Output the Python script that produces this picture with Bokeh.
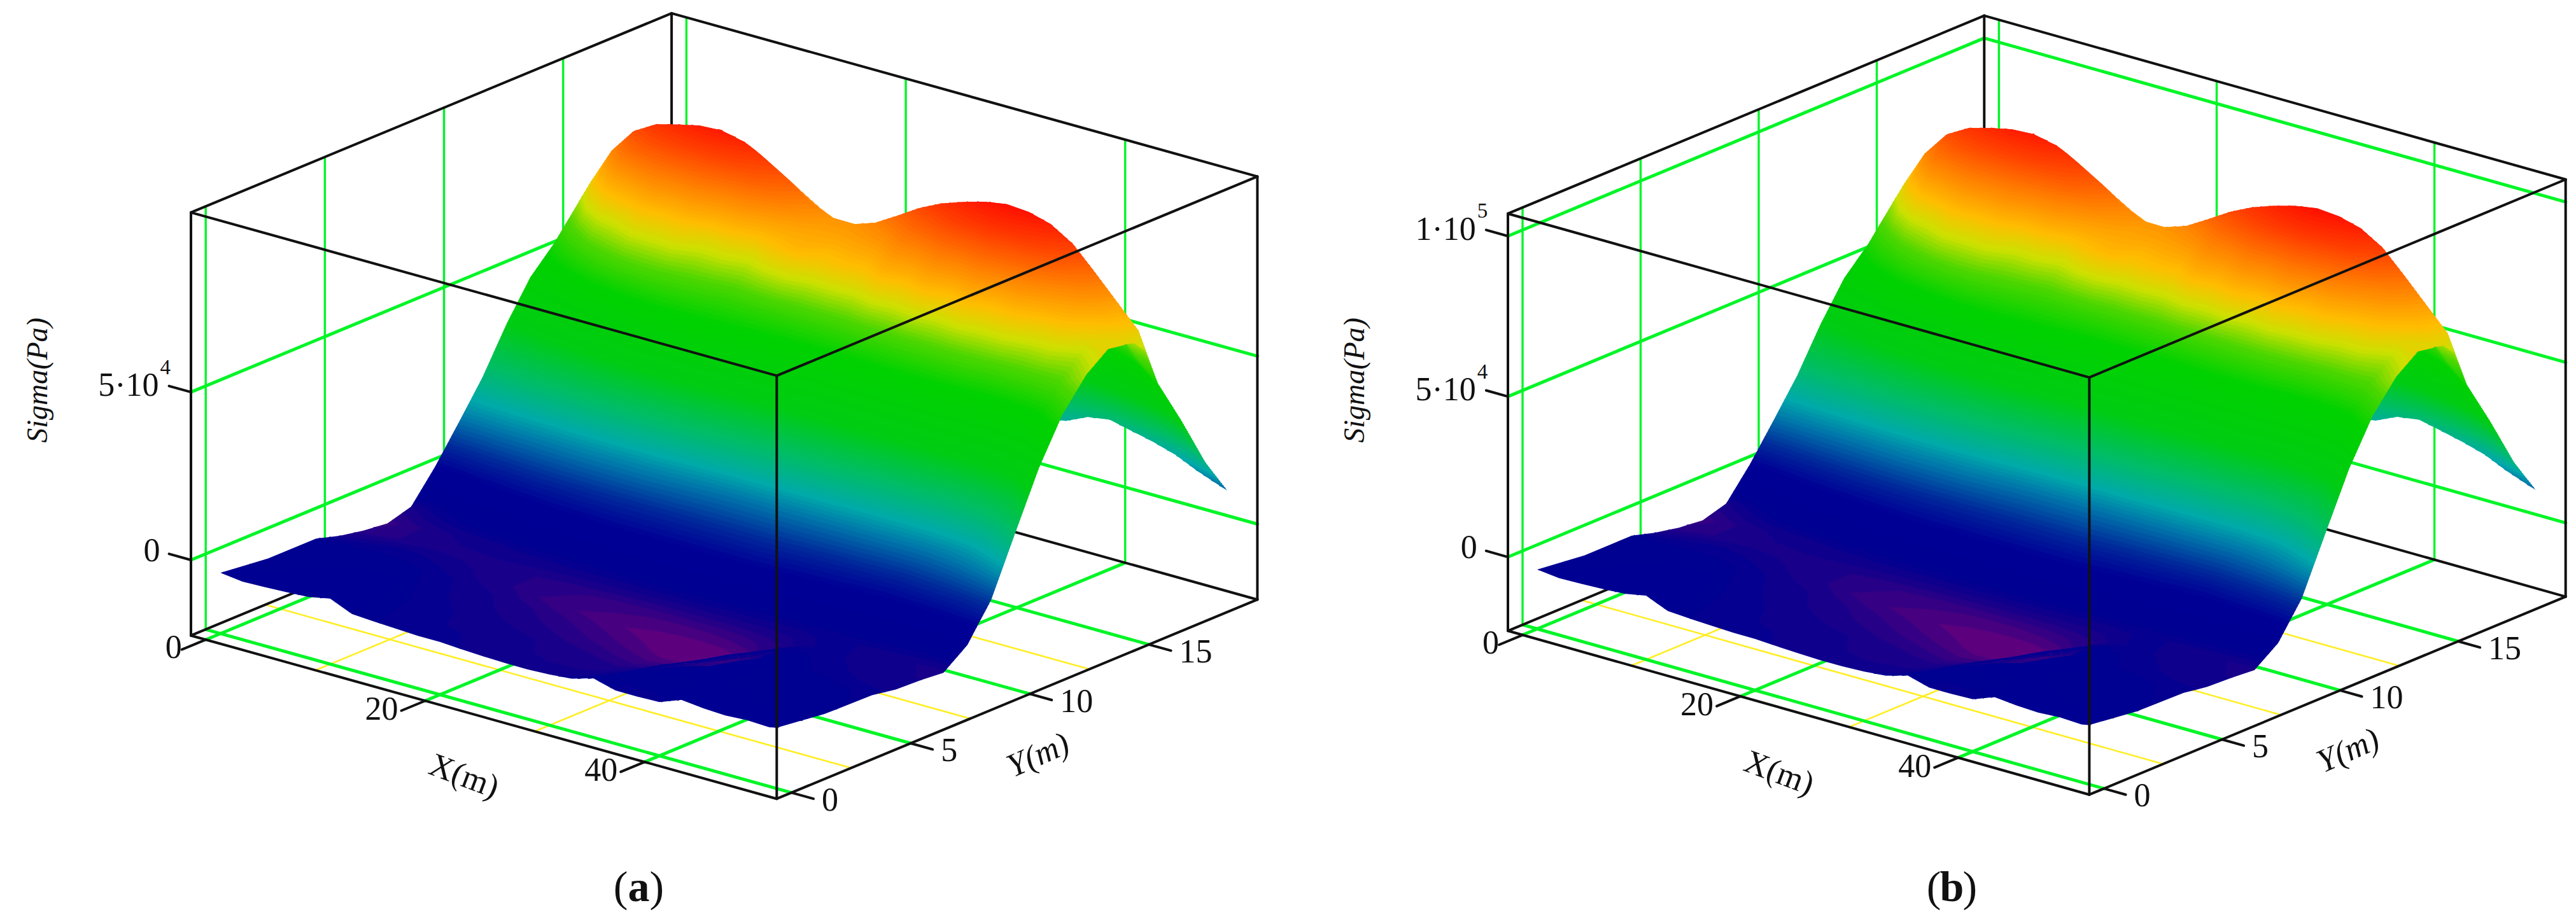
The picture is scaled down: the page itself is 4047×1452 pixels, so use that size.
import numpy as np
from bokeh.plotting import figure
from bokeh.layouts import row
from bokeh.models import Range1d
from bokeh.core.properties import value
from bokeh.embed import file_html
from bokeh.resources import INLINE

# ---- data (metres, kPa) ----
x_m = [0, 2, 4, 6, 8, 10, 12, 14, 16, 18, 20, 22, 24, 26, 28, 30, 32, 34, 36, 38, 40, 42, 44, 46, 48, 50, 50.7]
y_m = [0, 2, 4, 5, 6, 7, 8, 9, 10, 11, 12, 13, 14, 15, 15.5, 16, 17, 18, 18.9]
a_y00 = [-4.4, -5.2, -5.0, -4.7, -4.3, -3.0, -5.8, -6.2, -6.5, -6.8, -6.8, -7.2, -7.5, -7.7, -7.7, -7.4, -6.8, -4.9, -6.7, -6.7, -6.5, -4.0, -4.7, -5.0, -4.6, -4.9, -4.4]
a_y02 = [-6.0, -5.6, -5.3, -5.0, -4.8, -4.5, -6.0, -6.6, -7, -7.4, -7.6, -7.8, -8, -8.3, -8.5, -8.8, -9, -8, -4.8, -5, -5.2, -5.4, -5.5, -5.6, -5.8, -6, -6.2]
a_y04 = [-6, -6, -6, -6, -6.1, -6.4, -7, -7.6, -8, -8.5, -9, -9.5, -10, -10.5, -11, -11.5, -12, -12, -11, -5.5, -5, -5.5, -6, -6, -6.2, -6.4, -6.5]
a_y05 = [-8.1, -7.6, -7.2, -7, -7.2, -7.6, -8, -8.6, -9, -9.8, -10.4, -10.8, -11.2, -11.6, -12, -12.3, -12.5, -12.5, -12, -10, -5.2, -6, -6.6, -7, -7.4, -7.6, -7.7]
a_y06 = [-9.5, -9.2, -8.8, -8.5, -8.4, -8.4, -8.4, -8.6, -9, -9.4, -9.7, -10, -10.3, -10.5, -10.6, -10.6, -10.5, -10.2, -9.6, -9, -7.5, -6.8, -7.2, -7.8, -8, -8, -8]
a_y07 = [-10.3, -9.4, -8.6, -8, -7.6, -7.3, -7, -6.9, -6.7, -6.5, -6.4, -6.3, -6.2, -6.2, -6.2, -6.3, -6.5, -6.7, -7, -7, -7, -7, -7.3, -7.6, -8, -8.4, -8.6]
a_y08 = [-8.2, -6.8, -5.4, -4, -3.3, -2.7, -2, -1.7, -1.3, -1, -1, -1, -1, -1, -1, -1, -1.3, -1.7, -2, -2.3, -2.7, -3, -3.3, -3.5, -3.5, -3.4, -3.3]
a_y09 = [0.7, 1.5, 2.3, 3, 3.7, 4.2, 4.5, 4.8, 5, 5, 5, 5, 5, 5, 5, 5, 4.7, 4.3, 4, 3.7, 3.3, 3, 3.7, 4.3, 5, 6.5, 7.2]
a_y10 = [11, 11.3, 11.7, 12, 12.3, 12.7, 13, 13, 13, 13, 12.7, 12.3, 12, 12, 12, 12, 12, 12, 12, 12, 12, 12, 12.7, 14, 17, 22, 24]
a_y11 = [21.6, 22.6, 23.4, 24, 24.6, 25.2, 25.5, 25.8, 26, 26, 25.6, 25.3, 25, 25, 25, 25, 25, 24.6, 24, 24, 24, 24, 25.3, 27, 30, 37, 40.5]
a_y12 = [34.4, 36, 38, 40, 42, 44, 46, 46.8, 47, 47, 46.4, 45.6, 45, 45, 45, 45, 45, 45, 45, 45, 44.6, 44, 44, 45, 47, 52, 53.7]
a_y13 = [45.4, 48, 51, 55, 57, 58, 58, 57, 56, 55, 55, 55, 55, 55, 55, 55.5, 56, 56.5, 57, 57, 57, 56, 56, 56, 57, 61, 62.6]
a_y14 = [52.6, 58, 64, 66, 70, 69, 70, 66, 67, 65, 69, 71, 68, 69, 68, 72, 70, 73, 70, 73, 70, 71, 67, 67, 63, 66, 68]
a_y15 = [61.6, 72, 80, 84, 86, 87, 87, 86, 84, 80, 76, 74, 74, 75, 77, 81, 84, 87, 89, 90, 89, 87, 83, 78, 72, 67, 66]
a_y155 = [66, 77.6, 85.2, 89, 90.8, 92.3, 92.7, 91.2, 87.7, 83.7, 78.9, 75.8, 75.7, 77.9, 81.8, 85.9, 89.1, 91.4, 93.3, 94.4, 93.9, 92.1, 88.1, 81.5, 74.6, 67.7, 62]
a_y16 = [66, 74, 80, 84, 86, 87, 88, 87, 83, 79, 75, 72, 71, 73, 77, 80, 83, 86, 87, 88, 87, 84, 80, 72, 60, 53, 51]
a_y17 = [60, 64, 67, 70, 71, 72, 72, 71, 69, 65, 62, 60, 58, 59, 60, 64, 67, 69, 70, 70, 68, 64, 58, 52, 46, 39, 36.8]
a_y18 = [45, 47, 49, 50, 50, 50, 50, 49, 48, 45, 43, 41, 40, 40, 40, 42, 43, 44, 44, 43, 41, 39, 36, 33, 29, 23.5, 21.5]
a_y189 = [15, 15, 15, 16, 16, 16, 16, 16, 16, 16, 16, 16, 16, 16, 16, 16, 16.2, 17, 18, 21, 22, 20.5, 19, 17, 14, 11.5, 10.7]
sigma_a = [a_y00, a_y02, a_y04, a_y05, a_y06, a_y07, a_y08, a_y09, a_y10, a_y11, a_y12, a_y13,
           a_y14, a_y15, a_y155, a_y16, a_y17, a_y18, a_y189]

b_y00 = [-4.5, -5.3, -5.1, -4.8, -4.4, -3.1, -6.0, -6.4, -6.7, -7.0, -7.0, -7.4, -7.7, -7.9, -7.9, -7.6, -7.0, -5.0, -6.9, -6.9, -6.7, -4.1, -4.8, -5.1, -4.7, -5.0, -4.5]
b_y02 = [-6.2, -5.8, -5.4, -5.1, -4.9, -4.6, -6.2, -6.8, -7.2, -7.6, -7.8, -8.0, -8.2, -8.5, -8.7, -9.0, -9.2, -8.2, -4.9, -5.1, -5.3, -5.5, -5.6, -5.8, -6.0, -6.2, -6.4]
b_y04 = [-6.2, -6.2, -6.2, -6.2, -6.3, -6.6, -7.2, -7.8, -8.2, -8.7, -9.2, -9.8, -10.3, -10.8, -11.3, -11.8, -12.3, -12.3, -11.3, -5.6, -5.1, -5.6, -6.2, -6.2, -6.4, -6.6, -6.7]
b_y05 = [-8.3, -7.8, -7.4, -7.2, -7.4, -7.8, -8.2, -8.8, -9.2, -10.1, -10.7, -11.1, -11.5, -11.9, -12.3, -12.6, -12.8, -12.8, -12.3, -10.3, -5.3, -6.2, -6.8, -7.2, -7.6, -7.8, -7.9]
b_y06 = [-9.8, -9.4, -9.0, -8.7, -8.6, -8.6, -8.6, -8.8, -9.2, -9.7, -10.0, -10.3, -10.6, -10.8, -10.9, -10.9, -10.8, -10.5, -9.9, -9.2, -7.7, -7.0, -7.4, -8.0, -8.2, -8.2, -8.2]
b_y07 = [-10.6, -9.7, -8.8, -8.2, -7.8, -7.5, -7.2, -7.1, -6.9, -6.7, -6.6, -6.5, -6.4, -6.4, -6.4, -6.5, -6.7, -6.9, -7.2, -7.2, -7.2, -7.2, -7.5, -7.8, -8.2, -8.6, -8.8]
b_y08 = [-8.4, -7.0, -5.5, -4.1, -3.4, -2.8, -2.1, -1.7, -1.3, -1, -1, -1, -1, -1, -1, -1, -1.3, -1.7, -2.1, -2.4, -2.8, -3.1, -3.4, -3.6, -3.6, -3.5, -3.4]
b_y09 = [0.7, 1.5, 2.4, 3.1, 3.8, 4.3, 4.6, 4.9, 5.1, 5.1, 5.1, 5.1, 5.1, 5.1, 5.1, 5.1, 4.8, 4.4, 4.1, 3.8, 3.4, 3.1, 3.8, 4.4, 5.1, 6.7, 7.4]
b_y10 = [11.3, 11.6, 12, 12.3, 12.6, 13, 13.4, 13.4, 13.4, 13.4, 13, 12.6, 12.3, 12.3, 12.3, 12.3, 12.3, 12.3, 12.3, 12.3, 12.3, 12.3, 13, 14.4, 17.5, 22.6, 24.6]
b_y11 = [22.2, 23.2, 24, 24.6, 25.3, 25.9, 26.2, 26.5, 26.7, 26.7, 26.3, 26, 25.7, 25.7, 25.7, 25.7, 25.7, 25.3, 24.6, 24.6, 24.6, 24.6, 26, 27.7, 30.8, 38, 41.6]
b_y12 = [35.3, 37, 39, 41.1, 43.1, 45.2, 47.2, 48.1, 48.3, 48.3, 47.7, 46.8, 46.2, 46.2, 46.2, 46.2, 46.2, 46.2, 46.2, 46.2, 45.8, 45.2, 45.2, 46.2, 48.3, 53.4, 55.1]
b_y13 = [46.6, 49.3, 52.4, 56.5, 58.5, 59.6, 59.6, 58.5, 57.5, 56.5, 56.5, 56.5, 56.5, 56.5, 56.5, 57, 57.5, 58, 58.5, 58.5, 58.5, 57.5, 57.5, 57.5, 58.5, 62.6, 64.3]
b_y14 = [54, 59.6, 65.7, 67.8, 71.9, 70.9, 71.9, 67.8, 68.8, 66.8, 70.9, 72.9, 69.8, 70.9, 69.8, 73.9, 71.9, 75, 71.9, 75, 71.9, 72.9, 68.8, 68.8, 64.7, 67.8, 69.8]
b_y15 = [63.3, 73.9, 82.2, 86.3, 88.3, 89.3, 89.3, 88.3, 86.3, 82.2, 78.1, 76, 76, 77, 79.1, 83.2, 86.3, 89.3, 91.4, 92.4, 91.4, 89.3, 85.2, 80.1, 73.9, 68.8, 67.8]
b_y155 = [67.8, 79.7, 87.5, 91.4, 93.3, 94.8, 95.2, 93.7, 90.1, 86, 81, 77.8, 77.7, 80, 84, 88.2, 91.5, 93.9, 95.8, 97, 96.4, 94.6, 90.5, 83.7, 76.6, 69.5, 63.7]
b_y16 = [67.8, 76, 82.2, 86.3, 88.3, 89.3, 90.4, 89.3, 85.2, 81.1, 77, 73.9, 72.9, 75, 79.1, 82.2, 85.2, 88.3, 89.3, 90.4, 89.3, 86.3, 82.2, 73.9, 61.6, 54.4, 52.4]
b_y17 = [61.6, 65.7, 68.8, 71.9, 72.9, 73.9, 73.9, 72.9, 70.9, 66.8, 63.7, 61.6, 59.6, 60.6, 61.6, 65.7, 68.8, 70.9, 71.9, 71.9, 69.8, 65.7, 59.6, 53.4, 47.2, 40, 37.8]
b_y18 = [46.2, 48.3, 50.3, 51.4, 51.4, 51.4, 51.4, 50.3, 49.3, 46.2, 44.2, 42.1, 41.1, 41.1, 41.1, 43.1, 44.2, 45.2, 45.2, 44.2, 42.1, 40, 37, 33.9, 29.8, 24.1, 22.1]
b_y189 = [15.4, 15.4, 15.4, 16.4, 16.4, 16.4, 16.4, 16.4, 16.4, 16.4, 16.4, 16.4, 16.4, 16.4, 16.4, 16.4, 16.6, 17.5, 18.5, 21.6, 22.6, 21.1, 19.5, 17.5, 14.4, 11.8, 11]
sigma_b = [b_y00, b_y02, b_y04, b_y05, b_y06, b_y07, b_y08, b_y09, b_y10, b_y11, b_y12, b_y13,
           b_y14, b_y15, b_y155, b_y16, b_y17, b_y18, b_y189]

x_major = [0, 20, 40]
x_minor = [10, 30]
y_major = [0, 5, 10, 15]
y_minor = [2.5, 7.5, 12.5]
z_ticks_a = [0, 50]
z_ticks_b = [0, 50, 100]
x_tick_labels = ["0", "20", "40"]
y_tick_labels = ["0", "5", "10", "15"]

# colour ramp: (fraction of the value range, colour)
ramp_f = [0, .017, .04, .06, .09, .125, .17, .225, .27, .345, .44, .585, .66, .715, .77, .85, .925, 1]
ramp_r = [105, 60, 20, 0, 0, 0, 0, 0, 0, 0, 0, 0, 80, 205, 255, 255, 255, 255]
ramp_g = [0, 0, 0, 0, 0, 0, 40, 115, 170, 190, 205, 210, 215, 225, 190, 130, 70, 15]
ramp_b = [125, 130, 140, 145, 148, 150, 155, 170, 170, 100, 20, 0, 0, 0, 0, 0, 0, 0]

XR = (-1.35, 52.05)
YR = (-0.62, 19.55)
FONT = value("Liberation Serif")
GREEN = "#00f526"
YELLOW = "#ffee22"
BLACK = "#111111"
N = 120


def palette(f):
    return ["#%02x%02x%02x" % (int(r), int(g), int(b)) for r, g, b in zip(
        np.interp(f, ramp_f, ramp_r), np.interp(f, ramp_f, ramp_g), np.interp(f, ramp_f, ramp_b))]


def panel(x0, x1, L, F, R, T, zr, sigma, zticks, xlab, ylab, siglab, cap, capt, ztext):
    p = figure(width=x1 - x0, height=1440, x_range=Range1d(x0, x1), y_range=Range1d(1440, 0),
               output_backend="svg", toolbar_location=None, min_border=0)
    p.axis.visible = False
    p.grid.visible = False
    p.outline_line_color = None
    p.background_fill_color = "white"
    L, F, R, T = map(np.array, (L, F, R, T))
    ex = (F - L) / (XR[1] - XR[0])
    ey = (R - F) / (YR[1] - YR[0])
    ez = (T - L) / (zr[1] - zr[0])

    def P(x, y, z):
        return L + (x - XR[0]) * ex + (y - YR[0]) * ey + (z - zr[0]) * ez

    def seg(pairs, color, width):
        a = np.array([P(*u) for u, v in pairs])
        b = np.array([P(*v) for u, v in pairs])
        p.segment(a[:, 0], a[:, 1], b[:, 0], b[:, 1], line_color=color, line_width=width, line_cap="round")

    x_a, x_b = XR
    y_a, y_b = YR
    z_a, z_b = zr
    # floor grid
    seg([((v, y_a, z_a), (v, y_b, z_a)) for v in x_minor] + [((x_a, v, z_a), (x_b, v, z_a)) for v in y_minor], YELLOW, 2.6)
    seg([((v, y_a, z_a), (v, y_b, z_a)) for v in x_major] + [((x_a, v, z_a), (x_b, v, z_a)) for v in y_major], GREEN, 5)
    # walls
    seg([((x_a, v, z_a), (x_a, v, z_b)) for v in y_major] + [((v, y_b, z_a), (v, y_b, z_b)) for v in x_major], GREEN, 3.4)
    seg([((x_a, y_a, v), (x_a, y_b, v)) for v in zticks] + [((x_a, y_b, v), (x_b, y_b, v)) for v in zticks], GREEN, 5)
    # box, far part
    seg([((x_a, y_b, z_a), (x_a, y_b, z_b)), ((x_a, y_a, z_a), (x_a, y_b, z_a)), ((x_a, y_b, z_a), (x_b, y_b, z_a)),
         ((x_a, y_a, z_a), (x_a, y_a, z_b)), ((x_a, y_a, z_b), (x_a, y_b, z_b)), ((x_a, y_b, z_b), (x_b, y_b, z_b)),
         ((x_b, y_b, z_a), (x_b, y_b, z_b)), ((x_a, y_a, z_a), (x_b, y_a, z_a)), ((x_b, y_a, z_a), (x_b, y_b, z_a))], BLACK, 4)
    # ticks
    seg([((v, y_a, z_a), (v, y_a - 1, z_a)) for v in x_major], BLACK, 4)
    seg([((x_b, v, z_a), (x_b + 2, v, z_a)) for v in y_major], BLACK, 4)
    seg([((x_a, y_a, v), (x_a - 2, y_a, v)) for v in zticks], BLACK, 4)

    # surface: far slope first, near slope over it
    Z = np.array(sigma)
    X, Y = np.meshgrid(x_m, y_m)
    sx = L[0] + (X - x_a) * ex[0] + (Y - y_a) * ey[0] + (Z - z_a) * ez[0]
    sy = L[1] + (X - x_a) * ex[1] + (Y - y_a) * ey[1] + (Z - z_a) * ez[1]
    lo, hi = Z.min() - 0.01, Z.max() + 0.01
    levels = np.linspace(lo, hi, N + 1)
    mid = (levels[:-1] + levels[1:]) / 2
    fills = palette((mid - lo) / (hi - lo))
    lines = palette((levels - lo) / (hi - lo))
    k = y_m.index(15.5)
    for a, b in ((k, len(y_m)), (0, k + 1)):
        p.contour(sx[a:b], sy[a:b], Z[a:b], levels, fill_color=fills, line_color=lines, line_width=1.6)

    # box, near part
    seg([((x_a, y_a, z_b), (x_b, y_a, z_b)), ((x_b, y_a, z_b), (x_b, y_b, z_b)), ((x_b, y_a, z_a), (x_b, y_a, z_b))], BLACK, 4)

    def txt(xx, yy, s, size, align="center", angle=0.0, style="normal"):
        p.text([xx], [yy], text=[s], text_font=FONT, text_font_size=f"{size}px", text_align=align,
               text_baseline="middle", angle=angle, text_color="#111111", text_font_style=style)

    for v, s in zip(x_major, x_tick_labels):
        e = P(v, y_a - 1, z_a)
        txt(e[0] - (0 if v == 0 else 5), e[1] - (4 if v == 0 else 3), s, 52, "right")
    for v, s in zip(y_major, y_tick_labels):
        e = P(x_b + 2, v, z_a)
        txt(e[0] + 13, e[1] + 1, s, 52, "left")
    for v, (s, sup) in zip(zticks, ztext):
        e = P(x_a - 2, y_a, v)
        if sup:
            txt(e[0] - 16, e[1] - 2, s, 52, "right")
            txt(e[0] - 14, e[1] - 30, sup, 33, "left")
        else:
            txt(e[0] - 14, e[1] - 6, s, 52, "right")
    txt(xlab[0], xlab[1], "X(m)", 52, angle=-0.36)
    txt(ylab[0], ylab[1], "Y(m)", 52, angle=0.42, style="italic")
    txt(siglab[0], siglab[1], "Sigma(Pa)", 46, angle=np.pi / 2, style="italic")
    txt(cap[0] - 17, cap[1] - 4, "(", 68, "right")
    txt(cap[0], cap[1] - 4, capt, 68, "center", style="bold")
    txt(cap[0] + 17, cap[1] - 4, ")", 68, "left")
    return p


pa = panel(0, 2020, (299.5, 998.2), (1219.8, 1254.7), (1974.9, 941.7), (299.5, 333.4), (-22.5, 103.5), sigma_a,
           z_ticks_a, (729, 1218), (1630, 1185), (58, 597), (1003, 1396), "a", [("0", ""), ("5·10", "4")])
pb = panel(2020, 4040, (2368.5, 990.8), (3281.9, 1248.2), (4030.2, 937.1), (2368.5, 335.2), (-23, 107), sigma_b,
           z_ticks_b, (2795, 1213), (3688, 1178), (2127, 597), (3066, 1396), "b", [("0", ""), ("5·10", "4"), ("1·10", "5")])

layout = row(pa, pb, spacing=0)
open("out.html", "w").write(file_html(layout, INLINE))
